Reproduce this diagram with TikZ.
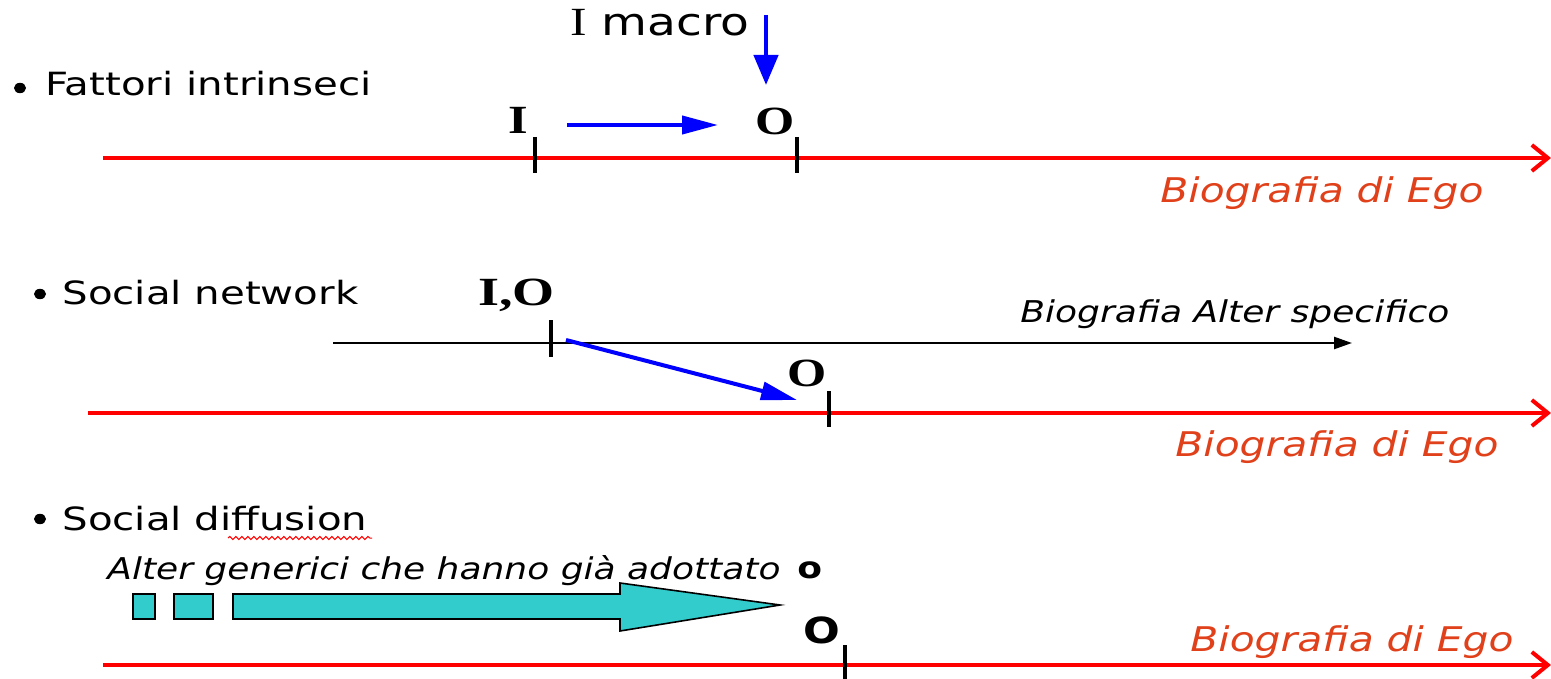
\documentclass[tikz,border=0pt]{standalone}
\usepackage{fontspec}
\setmainfont{DejaVu Sans}
\newfontfamily\serifb{Liberation Serif}
\usetikzlibrary{arrows.meta,decorations.pathmorphing,shapes.geometric}
\definecolor{egored}{HTML}{E0401A}
\definecolor{cyanfill}{HTML}{33CCCC}
\newcommand{\hx}[1]{\scalebox{1.2}[1]{#1}}
\newcommand{\hxx}[1]{\scalebox{1.26}[1]{#1}}
\begin{document}
\begin{tikzpicture}[x=0.5pt,y=-0.5pt,
  egoline/.style={red,line width=2pt,-{Straight Barb[length=8pt,width=13pt,line width=2pt]}},
  altline/.style={black,line width=1.2pt,-{Triangle[length=9pt,width=6pt]}},
  ticksty/.style={black,line width=2pt},
  bluearr/.style={blue,line width=2pt,-{Triangle[length=18pt,width=9pt]}},
  bluedown/.style={blue,line width=2.2pt,-{Triangle[length=15pt,width=12pt]}},
  txt/.style={inner sep=0pt,anchor=base west},
  bul/.style={ellipse,fill=black,inner sep=0pt,minimum width=6pt,minimum height=5.2pt},
  head/.style={txt,font=\fontsize{16}{18}\selectfont},
  ego/.style={txt,font=\fontsize{17}{19}\selectfont\itshape,text=egored},
  lab/.style={txt,font=\fontsize{20}{22}\selectfont\serifb\bfseries},
  alt/.style={txt,font=\fontsize{15}{17}\selectfont\itshape},
  box/.style={draw=black,fill=cyanfill,line width=0.8pt},
]
\useasboundingbox (0,0) rectangle (1551,679);

% ---------- Row 1 ----------
\node[bul] (b1) at (20,88) {};
\node[head] (h1) at (45,96) {\hxx{Fattori intrinseci}};
\coordinate (r1s) at (103,158);
\coordinate (r1e) at (1551,158);
\draw[egoline] (r1s) -- (r1e);
\coordinate (t1a) at (535,137); \coordinate (t1b) at (535,173);
\draw[ticksty] (t1a) -- (t1b);
\coordinate (t2a) at (797,137); \coordinate (t2b) at (797,173);
\draw[ticksty] (t2a) -- (t2b);
\node[lab] (li) at (508,134) {\hxx{I}};
\node[lab] (lo1) at (755,135) {\hxx{O}};
\coordinate (a1s) at (567,125); \coordinate (a1e) at (718,125);
\draw[bluearr] (a1s) -- (a1e);
\node[txt,font=\fontsize{19}{21}\selectfont] (im) at (570,36) {\scalebox{1.24}[1]{{\serifb\fontsize{20}{22}\selectfont I} macro}};
\coordinate (d1s) at (766,15); \coordinate (d1e) at (766,85);
\draw[bluedown] (d1s) -- (d1e);
\node[ego] (g1) at (1160,203) {\hx{Biografia di Ego}};

% ---------- Row 2 ----------
\node[bul] (b2) at (40,294) {};
\node[head] (h2) at (62,304) {\hxx{Social network}};
\coordinate (as) at (333,343); \coordinate (ae) at (1352,343);
\draw[altline] (as) -- (ae);
\node[alt] (ga) at (1020,322) {\hx{Biografia Alter specifico}};
\coordinate (t3a) at (551,320); \coordinate (t3b) at (551,357);
\draw[ticksty] (t3a) -- (t3b);
\node[lab] (lio) at (478,305) {\scalebox{1.35}[1]{I,O}};
\coordinate (a2s) at (566,340); \coordinate (a2e) at (797,400);
\draw[bluearr] (a2s) -- (a2e);
\node[lab] (lo2) at (787,386) {\hxx{O}};
\coordinate (r2s) at (88,413); \coordinate (r2e) at (1551,413);
\draw[egoline] (r2s) -- (r2e);
\coordinate (t4a) at (829,391); \coordinate (t4b) at (829,427);
\draw[ticksty] (t4a) -- (t4b);
\node[ego] (g2) at (1175,456) {\hx{Biografia di Ego}};

% ---------- Row 3 ----------
\node[bul] (b3) at (40,519) {};
\node[head] (h3) at (62,530) {\hxx{Social diffusion}};
\coordinate (w1) at (228,538); \coordinate (w2) at (372,538);
\draw[red,line width=0.5pt,decorate,decoration={snake,amplitude=0.8pt,segment length=3pt}] (w1) -- (w2);
\node[alt] (gen) at (107,579) {\hx{Alter generici che hanno già adottato}};
\node[txt,font=\fontsize{15}{17}\selectfont\bfseries] (so) at (797,578) {\hx{o}};
\draw[box] (133,594) rectangle (155,619);
\draw[box] (174,594) rectangle (213,619);
\draw[box] (233,594) -- (620,594) -- (620,583) -- (780,605) -- (620,631) -- (620,619) -- (233,619) -- cycle;
\node[txt,font=\fontsize{18}{20}\selectfont\bfseries] (lo3) at (803,643) {\hx{O}};
\coordinate (r3s) at (103,665); \coordinate (r3e) at (1551,665);
\draw[egoline] (r3s) -- (r3e);
\coordinate (t5a) at (845,645); \coordinate (t5b) at (845,679);
\draw[ticksty] (t5a) -- (t5b);
\node[ego] (g3) at (1190,651) {\hx{Biografia di Ego}};
\end{tikzpicture}
\end{document}
